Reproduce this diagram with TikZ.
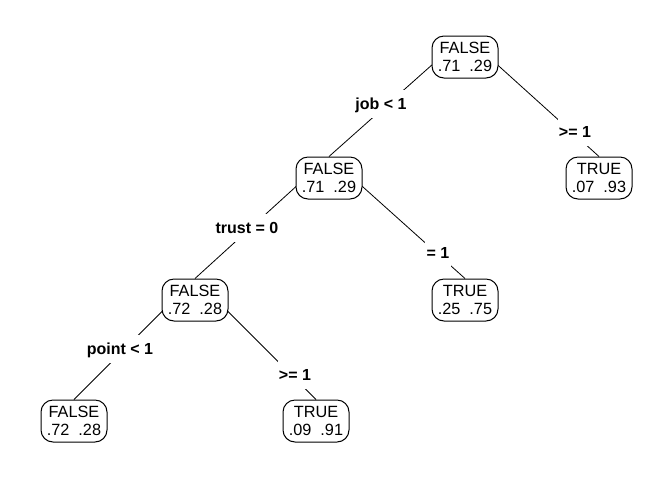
\documentclass[tikz,border=0pt]{standalone}
\usepackage{fontspec}
\setmainfont{Liberation Sans}
\usetikzlibrary{backgrounds}
\begin{document}
\begin{tikzpicture}[x=0.75pt,y=-0.75pt,
  treenode/.style={draw=black, line width=0.75pt, fill=white, rounded corners=9pt,
    minimum width=49.5pt, minimum height=31.5pt, inner sep=0pt, align=center,
    font=\fontsize{12.2}{13.5}\selectfont},
  splitlabel/.style={fill=white, inner xsep=1pt, inner ysep=6pt, text height=8.6pt,
    text depth=0pt, font=\fontsize{12}{13.5}\selectfont\bfseries},
  branch/.style={line width=0.6pt, black, shorten <=3pt}]
\useasboundingbox (0,0) rectangle (672,480);
% tree nodes
\node[treenode] (n1) at (465,57)  {FALSE\\.71\hspace{0.55em}.29};
\node[treenode] (n2) at (329,178) {FALSE\\.71\hspace{0.55em}.29};
\node[treenode] (n3) at (599,178) {TRUE\\.07\hspace{0.55em}.93};
\node[treenode] (n4) at (195,300) {FALSE\\.72\hspace{0.55em}.28};
\node[treenode] (n5) at (465,300) {TRUE\\.25\hspace{0.55em}.75};
\node[treenode] (n6) at (74,421)  {FALSE\\.72\hspace{0.55em}.28};
\node[treenode] (n7) at (316,421) {TRUE\\.09\hspace{0.55em}.91};
% branches
\begin{scope}[on background layer]
\fill[white] (0,0) rectangle (672,480);
\draw[branch] (n1.north) -- (n2.north);
\draw[branch] (n1.north) -- (n3.north);
\draw[branch] (n2.north) -- (n4.north);
\draw[branch] (n2.north) -- (n5.north);
\draw[branch] (n4.north) -- (n6.north);
\draw[branch] (n4.north) -- (n7.north);
\end{scope}
% split labels
\node[splitlabel] (s1) at (381,104) {job < 1};
\node[splitlabel] (s2) at (575,132) {>= 1};
\node[splitlabel] (s3) at (247,228) {trust = 0};
\node[splitlabel] (s4) at (438,253) {= 1};
\node[splitlabel] (s5) at (120,349) {point < 1};
\node[splitlabel] (s6) at (295,375) {>= 1};
\end{tikzpicture}
\end{document}
